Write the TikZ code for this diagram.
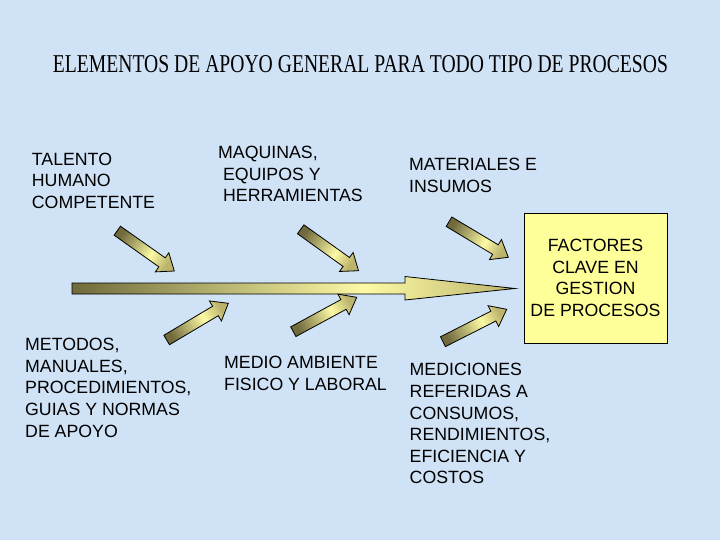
\documentclass[tikz,border=0pt]{standalone}
\usepackage{fontspec}
\usepackage{graphicx}
\setmainfont{Liberation Sans}
\newfontfamily\titlefont{Liberation Serif}
\usetikzlibrary{calc}
\definecolor{bgblue}{RGB}{208,226,245}
\definecolor{olivedark}{RGB}{112,106,60}
\definecolor{lightyel}{RGB}{252,250,165}
\definecolor{tanyel}{RGB}{188,180,108}
\definecolor{boxyel}{RGB}{255,255,153}
\pgfdeclarehorizontalshading{arrowshade}{100bp}{color(0bp)=(olivedark); color(25bp)=(olivedark); color(58bp)=(lightyel); color(75bp)=(tanyel); color(100bp)=(tanyel)}
\newcommand\blkarrow[3]{%
  \coordinate (#1-h) at ($(#2)!15bp!(#1)$);
  \shade[arrowsty, shading angle=#3]
    ($(#1)!5.5bp!90:(#2)$) -- ($(#1-h)!5.5bp!-90:(#1)$) -- ($(#1-h)!11.7bp!-90:(#1)$)
    -- (#2) -- ($(#1-h)!11.7bp!90:(#1)$) -- ($(#1-h)!5.5bp!90:(#1)$)
    -- ($(#1)!5.5bp!-90:(#2)$) -- cycle;
}
\begin{document}
\begin{tikzpicture}[x=1bp,y=-1bp,
  lbl/.style={font=\fontsize{17.8}{21.7}\selectfont, align=left, inner sep=0pt, anchor=north west},
  arrowsty/.style={draw=black, line width=0.8bp, shading=arrowshade}]
\fill[bgblue] (0,0) rectangle (720,540);
\useasboundingbox (0,0) rectangle (720,540);

% title
\node[anchor=base west, inner sep=0pt] (title) at (52.7,72.3)
  {\resizebox{615bp}{17bp}{\titlefont ELEMENTOS DE APOYO GENERAL PARA TODO TIPO DE PROCESOS}};

% labels
\node[lbl] (talento) at (31.7,152.7) {TALENTO\\HUMANO\\COMPETENTE};
\node[lbl] (maquinas) at (218,146) {MAQUINAS,\\ \ EQUIPOS Y\\ \ HERRAMIENTAS};
\node[lbl] (materiales) at (409,158.3) {MATERIALES E\\INSUMOS};
\node[lbl] (metodos) at (25,338) {METODOS,\\MANUALES,\\PROCEDIMIENTOS,\\GUIAS Y NORMAS\\DE APOYO};
\node[lbl] (medio) at (224,356) {MEDIO AMBIENTE\\FISICO Y LABORAL};
\node[lbl] (mediciones) at (409.5,363.3) {MEDICIONES\\REFERIDAS A\\CONSUMOS,\\RENDIMIENTOS,\\EFICIENCIA Y\\COSTOS};

% key box
\node[draw=black, line width=0.8bp, fill=boxyel, minimum width=143bp, minimum height=130bp,
      align=center, inner sep=0pt, font=\fontsize{17.8}{21.7}\selectfont] (box) at (595.5,278)
  {FACTORES\\CLAVE EN\\GESTION\\DE PROCESOS};

% main spine arrow
\coordinate (mtail) at (72,288.5);
\coordinate (mtip) at (515,288.5);
\shade[arrowsty, shading angle=0]
  (72,283) -- (405,283) -- (405,276.5) -- (mtip) -- (405,300) -- (405,294) -- (72,294) -- cycle;

% small arrows
\coordinate (u1t) at (117.3,230.7); \coordinate (u1p) at (174.3,271);
\coordinate (u2t) at (300.7,229.3); \coordinate (u2p) at (358.5,270.7);
\coordinate (u3t) at (449,221.7);   \coordinate (u3p) at (508.3,257.3);
\coordinate (l1t) at (166.7,340);   \coordinate (l1p) at (228.3,303.3);
\coordinate (l2t) at (293.3,331.7); \coordinate (l2p) at (356.7,297.3);
\coordinate (l3t) at (443,341.7);   \coordinate (l3p) at (506.7,309.3);
\blkarrow{u1t}{u1p}{-35}
\blkarrow{u2t}{u2p}{-35}
\blkarrow{u3t}{u3p}{-31}
\blkarrow{l1t}{l1p}{31}
\blkarrow{l2t}{l2p}{28}
\blkarrow{l3t}{l3p}{27}
\end{tikzpicture}
\end{document}
